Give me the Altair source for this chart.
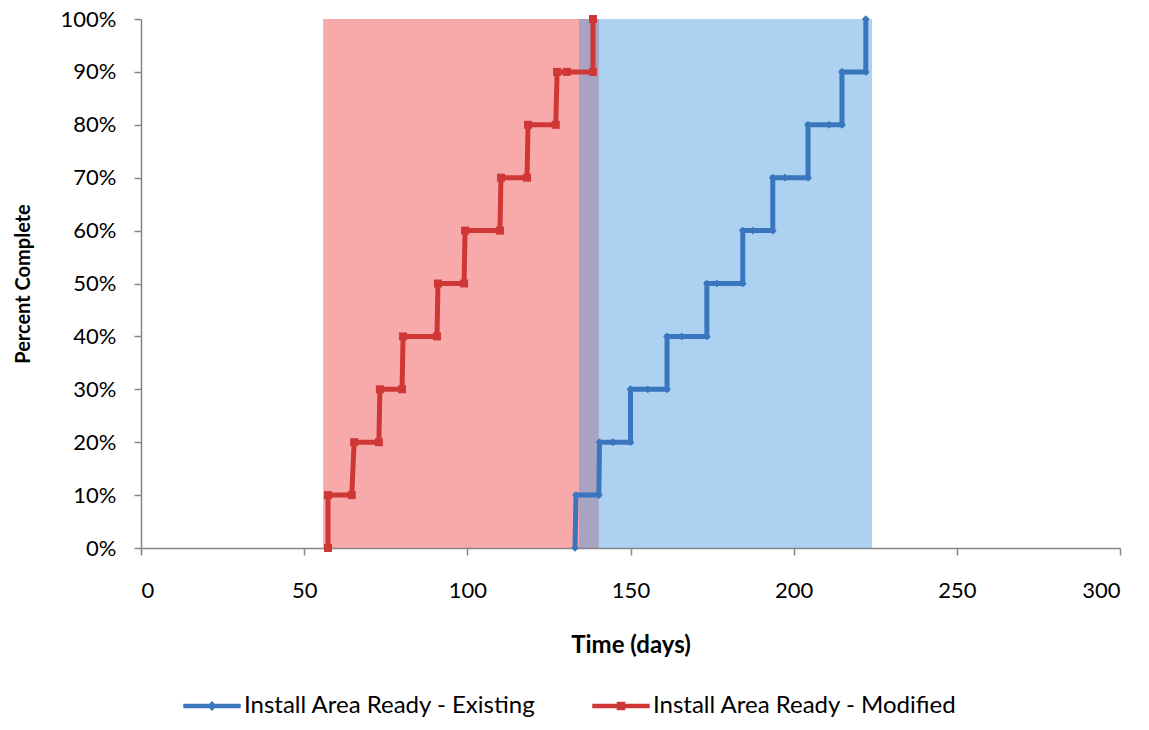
import altair as alt
import pandas as pd

# ---- data ----
existing_name = "Install Area Ready - Existing"
modified_name = "Install Area Ready - Modified"

existing_days = [133.0, 133.3, 140.3, 140.5, 144.6, 150.0, 150.0, 155.3, 161.2, 161.2,
                 165.7, 173.4, 173.4, 176.5, 184.4, 184.4, 187.5, 193.6, 193.6, 197.3,
                 204.4, 204.4, 210.8, 214.8, 214.8, 222.1, 222.1]
existing_pct = [0, 10, 10, 20, 20, 20, 30, 30, 30, 40,
                40, 40, 50, 50, 50, 60, 60, 60, 70, 70,
                70, 80, 80, 80, 90, 90, 100]

modified_days = [57.3, 57.3, 64.6, 65.3, 72.9, 73.2, 80.0, 80.3, 90.7, 91.0,
                 99.0, 99.3, 110.0, 110.3, 118.3, 118.6, 127.1, 127.5, 130.5, 138.5,
                 138.5]
modified_pct = [0, 10, 10, 20, 20, 30, 30, 40, 40, 50,
                50, 60, 60, 70, 70, 80, 80, 90, 90, 90,
                100]

region_names = ["Modified window", "Existing window"]
region_start = [55.8, 134.2]
region_end = [140.3, 224.0]

x_ticks = [0, 50, 100, 150, 200, 250, 300]
y_ticks = [0, 10, 20, 30, 40, 50, 60, 70, 80, 90, 100]

# ---- tables ----
df_exist = pd.DataFrame({"series": existing_name, "t": existing_days, "pct": existing_pct,
                         "idx": list(range(len(existing_days)))})
df_mod = pd.DataFrame({"series": modified_name, "t": modified_days, "pct": modified_pct,
                       "idx": list(range(len(modified_days)))})

regions = pd.DataFrame({"name": region_names, "start": region_start, "end": region_end,
                        "lo": [0, 0], "hi": [100, 100]})

W, H = 979, 529
FONT = "Lato"

BLUE = "#3A76BE"
RED = "#CF3737"

xscale = alt.Scale(domain=[0, 300], nice=False, zero=False)
yscale = alt.Scale(domain=[0, 100], nice=False)

xaxis = alt.Axis(values=x_ticks, title="Time (days)", grid=False, tickSize=7,
                 labelPadding=25, titleFontWeight="bold", titleFontSize=24,
                 titleY=97, titleBaseline="middle", labelFontSize=22,
                 labelFont=FONT, titleFont=FONT)
yaxis = alt.Axis(values=y_ticks, title="Percent Complete", grid=False, tickSize=7,
                 labelPadding=18, labelExpr="datum.value + '%'",
                 titleFontWeight="bold", titleFontSize=20, titleX=-118, titleY=H / 2,
                 titleAngle=-90, titleAlign="center", titleBaseline="middle",
                 labelFontSize=22, labelFont=FONT, titleFont=FONT)

line_path = "M-1,-0.075L1,-0.075L1,0.075L-1,0.075Z"
exist_sym = line_path + " M0,-0.17L0.17,0L0,0.17L-0.17,0Z"
mod_sym = line_path + " M-0.15,-0.15L0.15,-0.15L0.15,0.15L-0.15,0.15Z"


def make_legend(x, sym):
    return alt.Legend(
        title=None, orient="none", legendX=x, legendY=658, direction="horizontal",
        symbolSize=3300, symbolType=sym, symbolStrokeWidth=0,
        labelFontSize=24, labelFont=FONT, labelColor="#000000", labelLimit=0,
        labelOffset=3, padding=0,
    )


red_region = alt.Chart(regions).transform_filter(
    alt.datum.name == "Modified window"
).mark_rect(color="#F04848", opacity=0.47).encode(
    x=alt.X("start:Q", scale=xscale, axis=xaxis),
    x2="end:Q",
    y=alt.Y("lo:Q", scale=yscale, axis=yaxis),
    y2="hi:Q",
)
blue_region = alt.Chart(regions).transform_filter(
    alt.datum.name == "Existing window"
).mark_rect(color="#4A9BE0", opacity=0.45).encode(
    x=alt.X("start:Q", scale=xscale),
    x2="end:Q",
    y=alt.Y("lo:Q", scale=yscale),
    y2="hi:Q",
)


def series_layers(data, color, shape, size, legend_x, sym):
    line = alt.Chart(data).mark_line(strokeWidth=5, color=color).encode(
        x=alt.X("t:Q", scale=xscale),
        y=alt.Y("pct:Q", scale=yscale),
        order="idx:Q",
    )
    pts = alt.Chart(data).mark_point(filled=True, opacity=1, size=size, shape=shape).encode(
        x=alt.X("t:Q", scale=xscale),
        y=alt.Y("pct:Q", scale=yscale),
        color=alt.Color("series:N", scale=alt.Scale(range=[color]),
                        legend=make_legend(legend_x, sym)),
    )
    return line, pts


line_m, pts_m = series_layers(df_mod, RED, "square", 64, 451, mod_sym)
line_e, pts_e = series_layers(df_exist, BLUE, "diamond", 60, 42, exist_sym)

chart = alt.layer(red_region, blue_region, line_m, line_e, pts_m, pts_e).resolve_scale(
    color="independent"
).properties(
    width=W, height=H,
    background="white",
    autosize=alt.AutoSizeParams(type="none"),
    padding={"left": 133, "top": 11, "right": 21, "bottom": 174},
).configure_view(stroke=None).configure_axis(
    domainColor="#868686", tickColor="#868686", labelColor="#000000",
    titleColor="#000000", labelFont=FONT, titleFont=FONT, domainWidth=1.5, tickWidth=1.5,
)

chart.save("out.html", embed_options={"renderer": "svg", "actions": False})
